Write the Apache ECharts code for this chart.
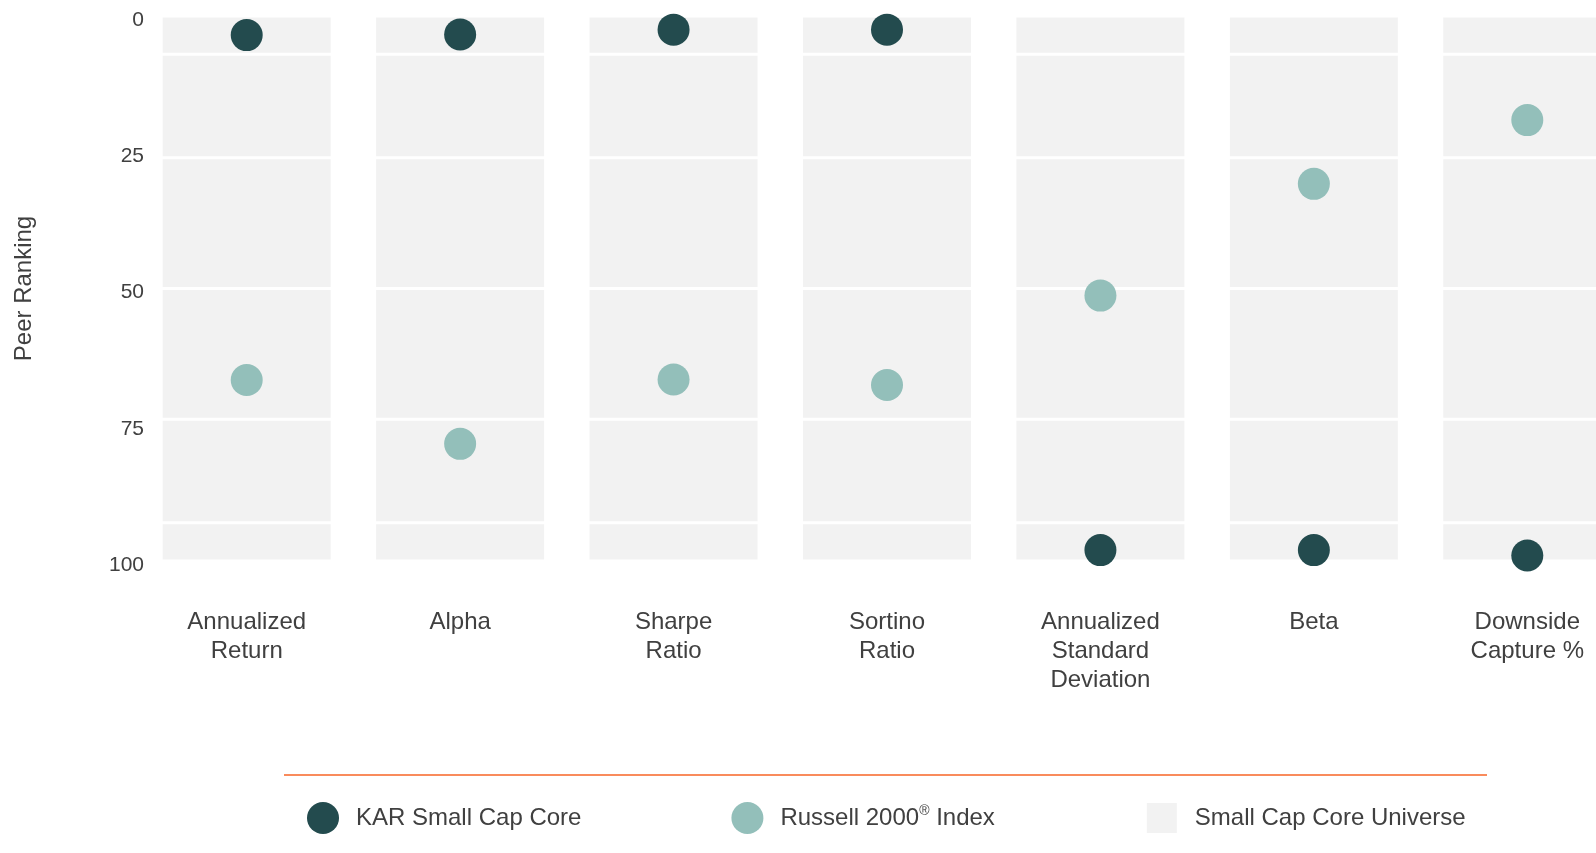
<!DOCTYPE html>
<html>
<head>
<meta charset="utf-8">
<title>Peer Ranking</title>
<script src="https://cdn.jsdelivr.net/npm/echarts@6/dist/echarts.min.js"></script>
<style>
  html, body { margin: 0; padding: 0; background: #fff; }
  #chart { width: 1596px; height: 853px; }
</style>
</head>
<body>
<div id="chart"></div>
<script>
// categories along the bottom
const categories = [
  'Annualized\nReturn',
  'Alpha',
  'Sharpe\nRatio',
  'Sortino\nRatio',
  'Annualized\nStandard\nDeviation',
  'Beta',
  'Downside\nCapture %'
]
// peer ranking of the fund and of the index (0 = best)
const karValues = [3.5, 3.4, 2.5, 2.5, 98, 98, 99]
const russellValues = [66.8, 78.5, 66.7, 67.7, 51.3, 30.8, 19.1]
// where the white lines split the universe column (same for every metric)
const universeBreaks = [0, 7, 26, 50, 74, 93, 100]
const yTicks = [0, 25, 50, 75, 100]

const darkColor = '#234b4e'
const lightColor = '#93bfba'
const greyColor = '#f2f2f2'
const textColor = '#404040'

// one stacked segment per band of the universe
const universeSeries = []
for (let i = 1; i < universeBreaks.length; i++) {
  const size = universeBreaks[i] - universeBreaks[i - 1]
  universeSeries.push({
    name: 'Small Cap Core Universe',
    type: 'bar',
    stack: 'universe',
    barWidth: 171,
    itemStyle: {
      color: greyColor,
      borderColor: '#ffffff',
      borderWidth: 1.5
    },
    silent: true,
    z: 1,
    data: categories.map(() => size)
  })
}

const myChart = echarts.init(document.getElementById('chart'))
myChart.setOption({
  animation: false,
  textStyle: {
    fontFamily: 'Liberation Sans, Arial, sans-serif'
  },
  grid: {
    left: 140,
    top: 16,
    width: 1494,
    height: 545,
    containLabel: false,
    outerBoundsMode: 'none'
  },
  legend: {
    left: 302,
    top: 796,
    itemWidth: 32,
    itemHeight: 32,
    itemGap: 150,
    selectedMode: false,
    data: [
      { name: 'KAR Small Cap Core', icon: 'circle' },
      { name: 'Russell 2000® Index', icon: 'circle' },
      { name: 'Small Cap Core Universe', icon: 'rect' }
    ],
    formatter: function(name) {
      if (name === 'Russell 2000® Index') {
        return '{t|Russell 2000}{s|®}{t| Index}'
      }
      return '{t|' + name + '}'
    },
    textStyle: {
      color: textColor,
      fontSize: 24,
      padding: [0, 0, 0, 12],
      rich: {
        t: { fontSize: 24, color: textColor, lineHeight: 28 },
        s: { fontSize: 14, color: textColor, verticalAlign: 'top', lineHeight: 28 }
      }
    }
  },
  xAxis: {
    type: 'category',
    data: categories,
    axisLine: { show: false },
    axisTick: { show: false },
    axisLabel: {
      color: textColor,
      fontSize: 24,
      lineHeight: 29,
      margin: 47,
      interval: 0
    }
  },
  yAxis: {
    type: 'value',
    inverse: true,
    min: 0,
    max: 100,
    interval: 25,
    name: 'Peer Ranking',
    nameLocation: 'middle',
    nameGap: 104,
    nameTextStyle: {
      color: textColor,
      fontSize: 24
    },
    axisLine: { show: false },
    axisTick: { show: false },
    splitLine: { show: false },
    axisLabel: {
      color: textColor,
      fontSize: 21,
      margin: -4,
      customValues: yTicks,
      formatter: '{v|{value}}',
      rich: {
        v: { fontSize: 21, color: textColor, padding: [8, 0, 0, 0] }
      }
    }
  },
  graphic: [
    {
      type: 'line',
      shape: { x1: 284, y1: 775, x2: 1487, y2: 775 },
      style: { stroke: '#f98b5c', lineWidth: 2 },
      silent: true
    }
  ],
  series: universeSeries.concat([
    {
      name: 'Russell 2000® Index',
      type: 'scatter',
      symbolSize: 32,
      itemStyle: { color: lightColor, opacity: 1 },
      z: 3,
      data: russellValues
    },
    {
      name: 'KAR Small Cap Core',
      type: 'scatter',
      symbolSize: 32,
      itemStyle: { color: darkColor, opacity: 1 },
      z: 4,
      data: karValues
    }
  ])
})
window.addEventListener('resize', function() {
  myChart.resize()
})
</script>
</body>
</html>
